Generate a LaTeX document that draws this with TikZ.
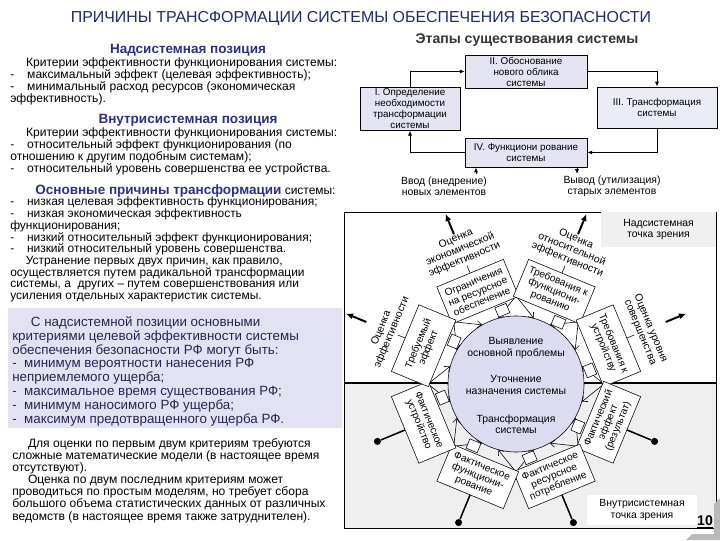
\documentclass[tikz,border=0pt]{standalone}
\usepackage{fontspec}
\setmainfont{Liberation Sans}
\usetikzlibrary{arrows.meta}

\definecolor{titleblue}{HTML}{1E2A6E}
\definecolor{headblue}{HTML}{2B3087}
\definecolor{lavbox}{HTML}{E2E2F2}
\definecolor{stagefill}{HTML}{E4E4F2}
\definecolor{circfill}{HTML}{DCDCF0}
\definecolor{lowgray}{HTML}{EFEFEF}
\definecolor{notetext}{HTML}{262650}

\newcommand{\itemdash}{\makebox[1.4em][l]{-}}

\tikzset{
  stage/.style={draw, fill=stagefill, align=center, inner sep=1pt, font=\fontsize{7}{7.8}\selectfont},
  petal/.style={draw, fill=white, align=center, inner sep=1pt, minimum width=1.8cm, minimum height=1cm, font=\fontsize{7.2}{7.6}\selectfont},
  evallbl/.style={align=center, inner sep=1pt, font=\fontsize{7.4}{8}\selectfont},
  para/.style={anchor=north west, align=left, inner sep=0pt},
  flow/.style={-{Latex[length=3.5pt,width=3pt]}, line width=0.7pt},
  evalarr/.style={-{Latex[length=5pt,width=4.5pt]}, line width=1.4pt},
  head/.style={font=\bfseries\fontsize{9.6}{11}\selectfont, text=headblue},
}

\begin{document}
\begin{tikzpicture}[x=0.025cm, y=0.025cm]
\useasboundingbox (0,0) rectangle (720,540);

% titles
\node[font=\fontsize{11.3}{13}\selectfont, text=titleblue] (title) at (361,521) {ПРИЧИНЫ ТРАНСФОРМАЦИИ СИСТЕМЫ ОБЕСПЕЧЕНИЯ БЕЗОПАСНОСТИ};
\node[font=\bfseries\fontsize{10}{12}\selectfont, text=black!80] (stages) at (527,500) {Этапы существования системы};

% left column
\node[head] (nadpos) at (188,490) {Надсистемная позиция};
\node[para, font=\fontsize{8.6}{8.6}\selectfont] (crit1) at (10,483) {\hspace*{1.3em}Критерии эффективности функционирования системы:\\
\itemdash максимальный эффект (целевая эффективность);\\
\itemdash минимальный расход ресурсов (экономическая\\
эффективность).};

\node[head] (vnpos) at (188,420) {Внутрисистемная позиция};
\node[para, font=\fontsize{8.6}{8.6}\selectfont] (crit2) at (10,413) {\hspace*{1.3em}Критерии эффективности функционирования системы:\\
\itemdash относительный эффект функционирования (по\\
отношению к другим подобным системам);\\
\itemdash относительный уровень совершенства ее устройства.};

\node[para, font=\fontsize{8.5}{8.35}\selectfont] (causes) at (10,356) {\hspace*{2.1em}{\color{headblue}\bfseries\fontsize{9.6}{9}\selectfont Основные причины трансформации} системы:\\
\itemdash низкая целевая эффективность функционирования;\\
\itemdash низкая экономическая эффективность\\
функционирования;\\
\itemdash низкий относительный эффект функционирования;\\
\itemdash низкий относительный уровень совершенства.\\
\hspace*{1.3em}Устранение первых двух причин, как правило,\\
осуществляется путем радикальной трансформации\\
системы, а\ \ других – путем совершенствования или\\
усиления отдельных характеристик системы.};

\fill[lavbox] (8,232) rectangle (342,112);
\node[para, font=\fontsize{9.5}{9.9}\selectfont, text=notetext] (note) at (12,224) {\hspace*{1.4em}С надсистемной позиции основными\\
критериями целевой эффективности системы\\
обеспечения безопасности РФ могут быть:\\
-\ \ минимум вероятности нанесения РФ\\
неприемлемого ущерба;\\
-\ \ максимальное время существования РФ;\\
-\ \ минимум наносимого РФ ущерба;\\
-\ \ максимум предотвращенного ущерба РФ.};

\node[para, font=\fontsize{8.6}{8.65}\selectfont] (models) at (12,102) {\hspace*{1.3em}Для оценки по первым двум критериям требуются\\
сложные математические модели (в настоящее время\\
отсутствуют).\\
\hspace*{1.3em}Оценка по двум последним критериям может\\
проводиться по простым моделям, но требует сбора\\
большого объема статистических данных от различных\\
ведомств (в настоящее время также затруднителен).};

% stages
\node[stage, minimum width=3.05cm, minimum height=0.83cm] (II) at (526,468.5) {II. Обоснование\\нового облика\\системы};
\node[stage, minimum width=2.5cm, minimum height=1.05cm] (I) at (410,431) {I. Определение\\необходимости\\трансформации\\системы};
\node[stage, minimum width=3cm, minimum height=1.03cm, fill=stagefill!70] (III) at (657,432.5) {III. Трансформация\\системы};
\node[stage, minimum width=3.05cm, minimum height=0.73cm] (IV) at (526,387.5) {IV. Функциони рование\\системы};

\draw[flow] (I.north) |- (II.west);
\draw[flow] (II.east) -| (III.north);
\draw[flow] (III.south) |- (IV.east);
\draw[flow] (IV.west) -| (I.south);

\coordinate (inpt) at (476,366);
\coordinate (outpt) at (577,366);
\draw[flow] (inpt) -- (inpt |- IV.south); % ввод
\draw[flow] (outpt |- IV.south) -- (outpt); % вывод
\node[evallbl] (inlbl) at (444,354) {Ввод (внедрение)\\новых элементов};
\node[evallbl] (outlbl) at (612,354) {Вывод (утилизация)\\старых элементов};

% lower frame
\fill[lowgray] (344,157) rectangle (716,12);
\draw (344,12) rectangle (716,328);
\node[fill=gray!12, minimum width=2.875cm, minimum height=0.875cm, inner sep=0, align=center, font=\fontsize{7.4}{8.4}\selectfont] (nadview) at (658.5,310.5) {Надсистемная\\точка зрения};
\node[fill=white, minimum width=2.75cm, minimum height=0.75cm, inner sep=0, align=center, font=\fontsize{7.4}{8.4}\selectfont] (vnview) at (642,30) {Внутрисистемная\\точка зрения};
\coordinate (divl) at (344,157);
\coordinate (divr) at (716,157);
\draw[line width=1.2pt] (divl) -- (divr);

\begin{scope}[shift={(516,156)}]
  \node[circle, draw, fill=circfill, minimum size=3.4cm] (core) at (0,0) {};
  \node[evallbl] (t1) at (0,36) {Выявление\\основной проблемы};
  \node[evallbl] (t2) at (0,-1) {Уточнение\\назначения системы};
  \node[evallbl] (t3) at (0,-40) {Трансформация\\системы};

  % lines to the core
  \foreach \v in {0,45,...,315} {
    \coordinate (vx\v) at (\v:88);
    \pgfmathtruncatemacro\ap{mod(\v+15,360)}
    \pgfmathtruncatemacro\am{mod(\v+345,360)}
    \draw[-{Straight Barb[length=3pt,width=5pt]}] (vx\v) -- (core.\ap);
    \draw[-{Straight Barb[length=3pt,width=5pt]}] (vx\v) -- (core.\am);
  }

  % tabs
  \foreach \ang/\rot [count=\i] in {112.5/22.5, 67.5/-22.5, 22.5/-67.5, -22.5/67.5, -67.5/22.5, -112.5/-22.5, -157.5/-67.5, 157.5/67.5}
    \node[draw, fill=white, inner sep=0, minimum width=0.3cm, minimum height=0.25cm, rotate=\rot] (tab\i) at ({\ang-12}:75) {};

  % petals
  \foreach \ang/\nm/\rot/\txt in {
      112.5/pa/22.5/{Ограничения\\на ресурсное\\обеспечение},
      67.5/pb/-22.5/{Требования к\\функциони-\\рованию},
      22.5/pc/-67.5/{Требования к\\устройству},
      -22.5/pd/67.5/{Фактический\\эффект\\(результат)},
      -67.5/pe/22.5/{Фактическое\\ресурсное\\потребление},
      -112.5/pf/-22.5/{Фактическое\\функциони-\\рование},
      -157.5/pg/-67.5/{Фактическое\\устройство},
      157.5/ph/67.5/{Требуемый\\эффект}}
    \node[petal, rotate=\rot] (\nm) at (\ang:100) {\txt};

  % evaluations
  \foreach \ang/\nm/\rot/\src/\txt in {
      112.5/ea/22.5/pa/{Оценка\\экономической\\эффективности},
      67.5/eb/-22.5/pb/{Оценка\\относительной\\эффективности},
      22.5/ec/-67.5/pc/{Оценка уровня\\совершенства},
      157.5/eh/67.5/ph/{Оценка\\эффективности}} {
    \node[evallbl, rotate=\rot, anchor=south] (\nm) at (\ang:128) {\txt};
    \draw (\src.north) -- (\nm.south);
    \coordinate (\nm a) at (\ang:162);
    \coordinate (\nm b) at (\ang:184);
    \draw[evalarr] (\nm a) -- (\nm b);
  }

  % facts
  \foreach \ang/\src in {-22.5/pd, -67.5/pe, -112.5/pf, -157.5/pg} {
    \node[circle, fill, inner sep=0, minimum size=5pt] (\src d) at (\ang:150) {};
    \draw[line width=1.1pt] (\src.south) -- (\src d);
  }
\end{scope}

\node[font=\bfseries\fontsize{10}{12}\selectfont] (pgno) at (705,18) {\underline{10}};
\fill[gray!55] (686,0) -- (720,0) -- (720,42) -- (714,36) -- (714,6) -- (692,6) -- cycle;

\end{tikzpicture}
\end{document}
